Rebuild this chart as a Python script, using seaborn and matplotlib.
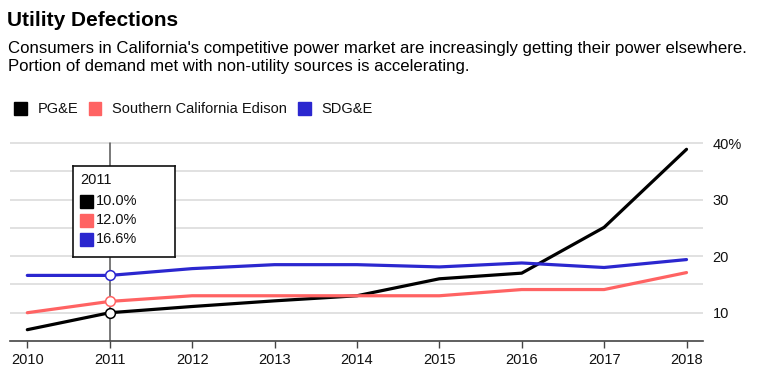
import matplotlib
matplotlib.use("Agg")
import matplotlib.pyplot as plt
import matplotlib.patches as mpatches
import pandas as pd
import seaborn as sns

years = [2010, 2011, 2012, 2013, 2014, 2015, 2016, 2017, 2018]
pge = [7.0, 10.0, 11.1, 12.1, 13.0, 16.0, 17.0, 25.1, 38.9]
sce = [10.0, 12.0, 13.0, 13.0, 13.0, 13.0, 14.1, 14.1, 17.1]
sdge = [16.6, 16.6, 17.8, 18.5, 18.5, 18.1, 18.8, 18.0, 19.4]
series_names = ["PG&E", "Southern California Edison", "SDG&E"]
colors = ["#000000", "#ff6363", "#2b27cf"]
y_ticks = [10, 20, 30, 40]
y_labels = ["10", "20", "30", "40%"]
hover_year = 2011

df = pd.DataFrame({"year": years, "PG&E": pge, "Southern California Edison": sce, "SDG&E": sdge})
long = df.melt(id_vars="year", var_name="utility", value_name="share")

sns.set_theme(style="white")
plt.rcParams["font.family"] = ["Liberation Sans", "DejaVu Sans"]
plt.rcParams["text.color"] = "#111111"

fig = plt.figure(figsize=(7.57, 3.75), dpi=100)
ax = fig.add_axes([10 / 757, 1 - 341 / 375, 693 / 757, (341 - 138) / 375])

sns.lineplot(data=long, x="year", y="share", hue="utility", palette=dict(zip(series_names, colors)),
             linewidth=2.3, ax=ax, legend=False)

ax.set_xlim(2009.79, 2018.2)
ax.set_ylim(5, 40.9)
for v in range(10, 41, 5):
    ax.axhline(v, color="#dcdcdc", lw=1.2, zorder=0)
ax.set_yticks(y_ticks)
ax.set_yticklabels(y_labels)
ax.yaxis.tick_right()
ax.tick_params(axis="y", length=0, pad=7, labelsize=10.5, labelcolor="#111111")
ax.set_xticks(years)
ax.tick_params(axis="x", length=5, width=1, color="#444444", pad=4, labelsize=10.5, labelcolor="#111111", bottom=True)
ax.set_xlabel("")
ax.set_ylabel("")
for s in ["top", "left", "right"]:
    ax.spines[s].set_visible(False)
ax.spines["bottom"].set_color("#444444")
ax.spines["bottom"].set_linewidth(1.2)

# hover line and markers
ax.plot([hover_year, hover_year], [5, 40], color="#555555", lw=1.1, zorder=1)
i = years.index(hover_year)
for vals, c in zip([pge, sce, sdge], colors):
    ax.plot(hover_year, vals[i], "o", ms=7, mfc="white", mec=c, mew=1.1, zorder=5)

# tooltip box
bx = fig.add_axes([73 / 757, 1 - 257 / 375, 102 / 757, 91 / 375])
bx.set_xticks([])
bx.set_yticks([])
for s in bx.spines.values():
    s.set_color("#111111")
    s.set_linewidth(1.2)
bx.set_xlim(0, 102)
bx.set_ylim(91, 0)
bx.text(7, 14, str(hover_year), fontsize=10.5, va="center", ha="left")
for k, (vals, c) in enumerate(zip([pge, sce, sdge], colors)):
    yy = 35 + k * 19
    bx.add_patch(mpatches.Rectangle((7, yy - 6.5), 13, 13, color=c))
    bx.text(23, yy, f"{vals[i]:.1f}%", fontsize=10.5, va="center", ha="left")

# titles
fig.text(7 / 757, 1 - 21 / 375, "Utility Defections", fontsize=15, fontweight="bold", va="center", ha="left",
         color="black")
fig.text(8 / 757, 1 - 48 / 375, "Consumers in California's competitive power market are increasingly getting their power elsewhere.",
         fontsize=12.1, va="center", ha="left", color="black")
fig.text(8 / 757, 1 - 67 / 375, "Portion of demand met with non-utility sources is accelerating.",
         fontsize=12.1, va="center", ha="left", color="black")

handles = [mpatches.Patch(color=c, label=n) for n, c in zip(series_names, colors)]
fig.legend(handles=handles, loc="center left", bbox_to_anchor=(1 / 757, 1 - 109 / 375), ncol=3, frameon=False,
           fontsize=10.5, handlelength=0.85, handleheight=1.0, handletextpad=0.75, columnspacing=0.75)

fig.savefig("out.png", dpi=100)
